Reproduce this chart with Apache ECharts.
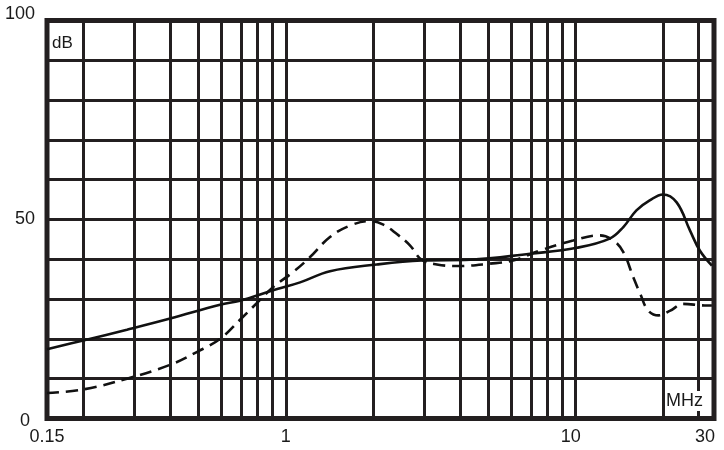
<!DOCTYPE html>
<html>
<head>
<meta charset="utf-8">
<script src="https://cdn.jsdelivr.net/npm/echarts@6/dist/echarts.min.js"></script>
<style>
html,body{margin:0;padding:0;background:#fff;}
#chart{width:724px;height:450px;}
</style>
</head>
<body>
<div id="chart"></div>
<script>
// Solid curve (MHz, dB)
const solidFreq = [0.15, 0.2, 0.283, 0.399, 0.593, 0.695, 0.903, 1.12, 1.42, 2.06, 2.94, 4.32, 6.96, 10.1, 13.1, 14.6, 16.2, 18.0, 20.0, 22.3, 24.8, 26.8, 29.5];
const solidDb   = [17.4, 19.6, 22.3, 25.1, 28.6, 29.6, 32.2, 34.2, 37.0, 38.7, 39.7, 39.9, 41.4, 42.9, 45.2, 48.1, 52.3, 54.8, 56.3, 54.3, 47.2, 42.2, 38.4];
// Dashed curve (MHz, dB)
const dashFreq = [0.15, 0.2, 0.283, 0.399, 0.493, 0.593, 0.695, 0.815, 0.903, 1.06, 1.21, 1.42, 1.67, 1.95, 2.17, 2.41, 2.68, 2.94, 3.32, 3.89, 5.06, 6.08, 7.53, 9.79, 12.1, 13.5, 14.6, 15.8, 16.7, 17.8, 19.3, 21.2, 23.5, 27.9, 29.5];
const dashDb   = [6.4, 7.3, 10.0, 13.5, 16.7, 20.0, 24.8, 29.8, 33.0, 36.8, 40.5, 45.6, 48.5, 49.6, 48.7, 46.4, 43.5, 39.9, 38.7, 38.3, 38.9, 39.7, 42.2, 44.7, 46.0, 44.7, 41.8, 35.5, 31.3, 27.1, 25.9, 27.1, 28.8, 28.4, 28.4];
// Vertical grid lines (MHz)
const gridFreqs = [0.2, 0.3, 0.4, 0.5, 0.6, 0.7, 0.8, 0.9, 1, 2, 3, 4, 5, 6, 7, 8, 9, 10, 20, 26.4];
// Tick labels
const xTickLabels = ['0.15', '1', '10', '30'];
const yTickLabels = ['0', '50', '100'];

const FONT = 'Liberation Sans, Arial, sans-serif';
const INK = '#231f20';
const TXT = '#1a1a1a';

const chart = echarts.init(document.getElementById('chart'), null, {renderer: 'canvas'});

const xRich = {
  n: {fontSize: 18, fontFamily: FONT, color: TXT},
  t10: {fontSize: 18, fontFamily: FONT, color: TXT, padding: [0, 10, 0, 0]},
  t30: {fontSize: 18, fontFamily: FONT, color: TXT, padding: [0, 18, 0, 0]}
};
const yRich = {
  n: {fontSize: 18, fontFamily: FONT, color: TXT},
  top: {fontSize: 18, fontFamily: FONT, color: TXT, padding: [0, 0, 12, 0]},
  bot: {fontSize: 18, fontFamily: FONT, color: TXT, padding: [6, 5, 0, 0]}
};

function fmtX(v) {
  const s = String(+(+v).toPrecision(3));
  if (xTickLabels.indexOf(s) < 0) return '';
  if (s === '10') return '{t10|' + s + '}';
  if (s === '30') return '{t30|' + s + '}';
  return '{n|' + s + '}';
}
function fmtY(v) {
  const s = String(v);
  if (yTickLabels.indexOf(s) < 0) return '';
  if (s === '100') return '{top|' + s + '}';
  if (s === '0') return '{bot|' + s + '}';
  return '{n|' + s + '}';
}

const option = {
  animation: false,
  backgroundColor: '#fff',
  grid: {
    left: 47, right: 10, top: 20.5, bottom: 31.5,
    show: true, borderColor: INK, borderWidth: 5, backgroundColor: 'transparent'
  },
  xAxis: {
    type: 'log', logBase: 10, min: 0.15, max: 30,
    axisLine: {show: false}, axisTick: {show: false},
    splitLine: {show: false},
    axisLabel: {show: true, showMinLabel: true, showMaxLabel: true, margin: 10, formatter: fmtX, rich: xRich}
  },
  yAxis: {
    type: 'value', min: 0, max: 100, interval: 10,
    axisLine: {show: false}, axisTick: {show: false},
    splitLine: {show: true, lineStyle: {color: INK, width: 3}},
    axisLabel: {show: true, margin: 12, formatter: fmtY, rich: yRich}
  },
  graphic: [
    {type: 'text', left: 52, top: 35, z: 100,
     style: {text: 'dB', font: '17px ' + FONT, fill: TXT}},
    {type: 'text', left: 665, top: 391, z: 100,
     style: {text: 'MHz', font: '18px ' + FONT, fill: TXT, backgroundColor: '#fff', padding: [1, 1, 1, 1]}}
  ],
  series: [
    {
      type: 'line', name: 'grid', data: [], silent: true,
      markLine: {
        silent: true, symbol: 'none', animation: false,
        label: {show: false},
        lineStyle: {color: INK, width: 3, type: 'solid'},
        data: gridFreqs.map(f => ({xAxis: f}))
      }
    },
    {
      type: 'line', name: 'solid', z: 10,
      data: solidFreq.map((f, i) => [f, solidDb[i]]),
      smooth: 0.4, showSymbol: false, symbol: 'none',
      lineStyle: {color: '#111', width: 2.6, type: 'solid'}
    },
    {
      type: 'line', name: 'dashed', z: 10,
      data: dashFreq.map((f, i) => [f, dashDb[i]]),
      smooth: 0.4, showSymbol: false, symbol: 'none',
      lineStyle: {color: '#111', width: 2.6, type: [12, 7]}
    }
  ]
};
chart.setOption(option);
</script>
</body>
</html>
